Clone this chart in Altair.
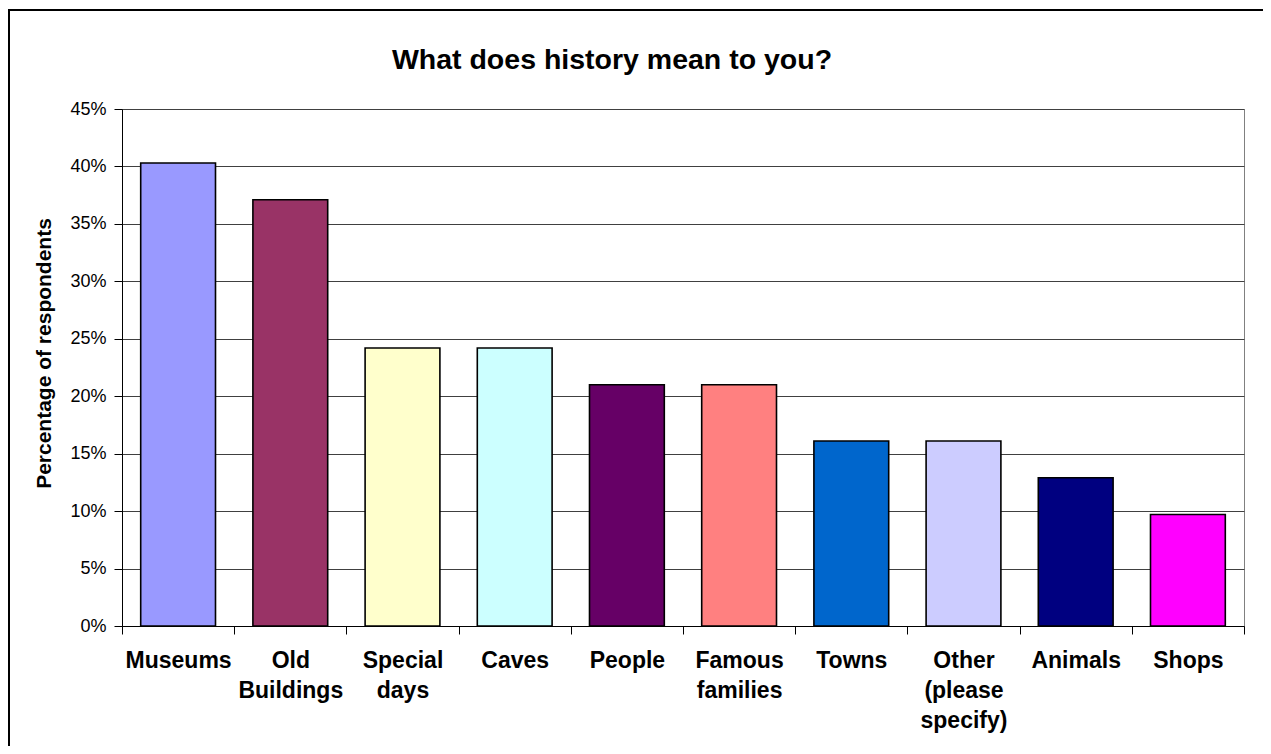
import altair as alt
import pandas as pd

categories = ["Museums", "Old Buildings", "Special days", "Caves", "People",
              "Famous families", "Towns", "Other (please specify)", "Animals", "Shops"]
values = [0.403, 0.371, 0.242, 0.242, 0.210, 0.210, 0.161, 0.161, 0.129, 0.097]
colors = ["#9999FF", "#993366", "#FFFFCC", "#CCFFFF", "#660066",
          "#FF8080", "#0066CC", "#CCCCFF", "#000080", "#FF00FF"]
title_text = "What does history mean to you?"
y_title = "Percentage of respondents"

FONT = "Liberation Sans, Arial, Helvetica, sans-serif"
W, H = 1122, 517

df = pd.DataFrame({"category": categories, "value": values})
one = pd.DataFrame({"a": [0]})

bars = alt.Chart(df).mark_bar(stroke="#000000", strokeWidth=1.6,
                              width=alt.RelativeBandSize(2 / 3)).encode(
    x=alt.X("category:N", sort=categories,
            scale=alt.Scale(paddingInner=0, paddingOuter=0),
            axis=alt.Axis(title=None, labelAngle=0, labelExpr="split(datum.label, ' ')",
                          labelFont=FONT, labelFontSize=23, labelFontWeight="bold",
                          labelColor="#000000", labelLineHeight=30, labelBaseline="top",
                          labelPadding=15, tickBand="extent", tickSize=8,
                          tickColor="#000000", domainColor="#000000", grid=False,
                          labelLimit=300)),
    y=alt.Y("value:Q", scale=alt.Scale(domain=[0, 0.45], nice=False),
            axis=alt.Axis(title=y_title, format=".0%", values=[i * 0.05 for i in range(10)],
                          labelFont=FONT, labelFontSize=18, labelColor="#000000",
                          labelPadding=8, tickSize=8, tickColor="#000000",
                          domainColor="#000000", gridColor="#404040", gridWidth=1,
                          titleFont=FONT, titleFontSize=21, titleFontWeight="bold",
                          titleColor="#000000", titleAngle=270, titleAlign="center",
                          titleBaseline="middle", titleX=-78, titleY=244)),
    color=alt.Color("category:N", sort=categories,
                    scale=alt.Scale(domain=categories, range=colors), legend=None),
)

title = alt.Chart(one).mark_text(
    font=FONT, fontSize=28.5, fontWeight="bold", color="#000000",
    align="center", baseline="alphabetic"
).encode(x=alt.value(490), y=alt.value(-40), text=alt.value(title_text))

border_left = alt.Chart(one).mark_rule(color="#000000", strokeWidth=2).encode(
    x=alt.value(-113), y=alt.value(-99), y2=alt.value(H + 125))
border_top = alt.Chart(one).mark_rule(color="#000000", strokeWidth=2).encode(
    x=alt.value(-114), x2=alt.value(W + 25), y=alt.value(-99))

chart = alt.layer(bars, title, border_left, border_top).properties(
    width=W, height=H,
    padding={"left": 114, "top": 101, "right": 19, "bottom": 120},
    autosize=alt.AutoSizeParams(type="none"),
    background="#FFFFFF",
).configure_view(stroke="#808080", strokeWidth=1)

chart.save("out.html", embed_options={"renderer": "svg", "actions": False})
